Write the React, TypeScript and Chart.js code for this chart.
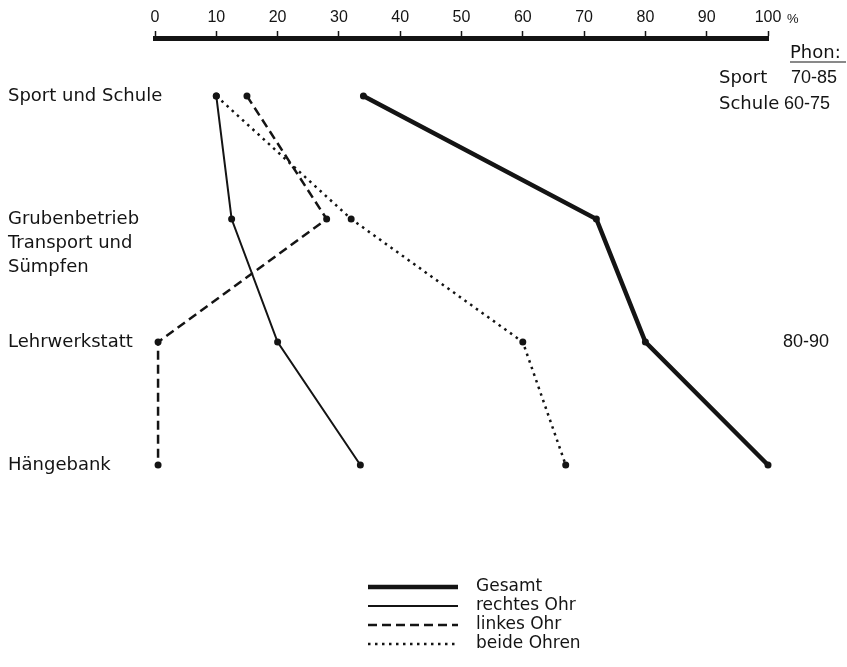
import React, { useEffect, useRef } from 'react';
import { Chart, registerables } from 'chart.js';

Chart.register(...registerables);

// ---- data ----
const categories: (string | string[])[] = [
  'Sport und Schule',
  ['Grubenbetrieb', 'Transport und', 'Sümpfen'],
  'Lehrwerkstatt',
  'Hängebank',
];
const xTickValues = [0, 10, 20, 30, 40, 50, 60, 70, 80, 90, 100];
const gesamt = [34, 72, 80, 100];
const rechtesOhr = [10, 12.5, 20, 33.5];
const linkesOhr = [15, 28, 0.5, 0.5];
const beideOhren = [10, 32, 60, 67];
const seriesLabels = ['Gesamt', 'rechtes Ohr', 'linkes Ohr', 'beide Ohren'];
const phonHeader = 'Phon:';
const phonNotes: { row: number; name: string; range: string }[] = [
  { row: 0, name: 'Sport', range: '70-85' },
  { row: 0, name: 'Schule', range: '60-75' },
  { row: 2, name: '', range: '80-90' },
];

const INK = '#141414';
const SANS = '"DejaVu Sans", "Liberation Sans", sans-serif';
const NUM = '"Liberation Sans", Arial, sans-serif';

const toPoints = (vals: number[]) => vals.map((v, i) => ({ x: v, y: i }));

const extrasPlugin = {
  id: 'extras',
  afterDraw(chart: any) {
    const ctx: CanvasRenderingContext2D = chart.ctx;
    const xs = chart.scales.x;
    const ys = chart.scales.y;
    ctx.save();
    ctx.fillStyle = INK;
    ctx.strokeStyle = INK;

    // percent sign after 100
    ctx.font = '13px ' + NUM;
    ctx.textAlign = 'left';
    ctx.textBaseline = 'middle';
    ctx.fillText('%', xs.getPixelForValue(100) + 19, 19);

    // Phon annotations
    const r0 = ys.getPixelForValue(0);
    ctx.font = '18px ' + SANS;
    ctx.fillText(phonHeader, 790, r0 - 43);
    ctx.lineWidth = 1.2;
    ctx.beginPath();
    ctx.moveTo(790, r0 - 34);
    ctx.lineTo(846, r0 - 34);
    ctx.stroke();
    let k = 0;
    phonNotes.forEach((n) => {
      const y = ys.getPixelForValue(n.row);
      if (n.name) {
        const yy = k === 0 ? y - 18 : y + 8;
        ctx.font = '18px ' + SANS;
        ctx.fillText(n.name, 719, yy);
        ctx.font = '18px ' + NUM;
        ctx.fillText(n.range, k === 0 ? 791 : 784, yy);
        k++;
      } else {
        ctx.font = '18px ' + NUM;
        ctx.fillText(n.range, 783, y);
      }
    });

    // legend
    const ds = chart.data.datasets;
    const ly = [587, 606, 625, 644];
    ds.forEach((d: any, i: number) => {
      ctx.setLineDash(d.borderDash || []);
      ctx.lineCap = 'butt';
      ctx.lineWidth = d.borderWidth;
      ctx.beginPath();
      ctx.moveTo(368, ly[i]);
      ctx.lineTo(458, ly[i]);
      ctx.stroke();
      ctx.setLineDash([]);
      ctx.font = '17px ' + SANS;
      ctx.textBaseline = 'middle';
      ctx.fillText(d.label, 476, ly[i]);
    });
    ctx.restore();
  },
};

export default function App() {
  const ref = useRef<HTMLCanvasElement | null>(null);

  useEffect(() => {
    if (!ref.current) return;
    const common = {
      borderColor: INK,
      pointRadius: 3.5,
      pointHoverRadius: 3.5,
      pointBackgroundColor: INK,
      pointBorderWidth: 0,
      tension: 0,
      fill: false,
      clip: false as const,
      borderCapStyle: 'butt' as const,
    };
    const chart = new Chart(ref.current, {
      type: 'line',
      data: {
        datasets: [
          { ...common, label: seriesLabels[0], data: toPoints(gesamt), borderWidth: 4.5, borderDash: [] },
          { ...common, label: seriesLabels[1], data: toPoints(rechtesOhr), borderWidth: 2, borderDash: [] },
          { ...common, label: seriesLabels[2], data: toPoints(linkesOhr), borderWidth: 2.5, borderDash: [9, 5] },
          { ...common, label: seriesLabels[3], data: toPoints(beideOhren), borderWidth: 2.5, borderDash: [2.5, 4.5] },
        ],
      },
      options: {
        animation: false,
        responsive: true,
        maintainAspectRatio: false,
        layout: { padding: { left: 155, right: 79, top: 0, bottom: 127 } },
        plugins: { legend: { display: false }, tooltip: { enabled: false } },
        scales: {
          x: {
            type: 'linear',
            position: 'top',
            min: 0,
            max: 100,
            afterBuildTicks: (s: any) => {
              s.ticks = xTickValues.map((v) => ({ value: v }));
            },
            afterFit: (s: any) => {
              s.height = 38;
            },
            ticks: {
              color: INK,
              padding: 4,
              maxRotation: 0,
              autoSkip: false,
              font: { family: NUM, size: 16 },
              callback: (v: any) => String(v),
            },
            grid: {
              display: true,
              drawOnChartArea: false,
              drawTicks: true,
              tickLength: 7,
              tickWidth: 1.5,
              tickColor: INK,
            },
            border: { display: true, width: 5, color: INK },
          },
          y: {
            type: 'linear',
            reverse: true,
            min: -0.4716,
            max: 3.6097,
            afterBuildTicks: (s: any) => {
              s.ticks = categories.map((_, i) => ({ value: i }));
            },
            afterFit: (s: any) => {
              s.width = 0;
            },
            ticks: {
              color: INK,
              mirror: true,
              padding: -147,
              autoSkip: false,
              font: { family: SANS, size: 18, lineHeight: 24 / 18 },
              callback: (v: any) => {
                const c = categories[Math.round(Number(v))];
                if (Array.isArray(c)) {
                  return [...c.slice(1).map(() => ''), ...c];
                }
                return c;
              },
            },
            grid: { display: false, drawTicks: false, tickLength: 0 },
            border: { display: false },
          },
        },
      },
      plugins: [extrasPlugin],
    });
    return () => chart.destroy();
  }, []);

  return (
    <div style={{ position: 'fixed', left: 0, top: 0, width: 847, height: 667, background: '#fff' }}>
      <canvas ref={ref} />
    </div>
  );
}
